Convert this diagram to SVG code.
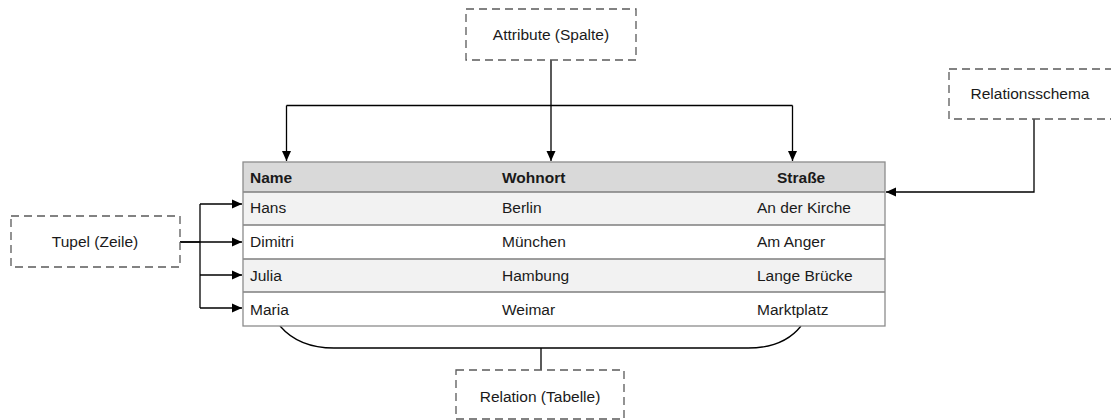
<svg xmlns="http://www.w3.org/2000/svg" width="1111" height="420" viewBox="0 0 1111 420">
  <style>
    text { font-family: "Liberation Sans", Arial, sans-serif; font-size: 15.5px; fill: #1a1a1a; }
    .hdr { font-weight: bold; }
    .note { fill: #ffffff; stroke: #595959; stroke-width: 1.3; stroke-dasharray: 8 5; }
    .grid { stroke: #7f7f7f; stroke-width: 1.3; }
    .wire { fill: none; stroke: #000000; stroke-width: 1.3; }
    .arrow { fill: none; stroke: #000000; stroke-width: 1.3; marker-end: url(#tip); }
  </style>
  <defs>
    <marker id="tip" viewBox="0 0 10 10" refX="10" refY="5" markerWidth="10" markerHeight="10" markerUnits="userSpaceOnUse" orient="auto">
      <path d="M0,0.5 L10,5 L0,9.5 Z" fill="#000000"/>
    </marker>
  </defs>

  <rect width="1111" height="420" fill="#ffffff"/>

  <!-- connectors -->
  <g id="connectors">
    <!-- attribute fan-out to the three columns -->
    <path class="wire" d="M551,60 V105.5"/>
    <path class="wire" d="M286.5,105.5 H792.5"/>
    <path class="arrow" d="M286.5,105.5 V161"/>
    <path class="arrow" d="M551,105.5 V161"/>
    <path class="arrow" d="M792.5,105.5 V161"/>
    <!-- schema to header row -->
    <path class="arrow" d="M1034,119 V192 H886"/>
    <!-- tuple fan-out to each row -->
    <path class="wire" d="M180,242 H200"/>
    <path class="wire" d="M200,204 V308"/>
    <path class="arrow" d="M200,204 H242"/>
    <path class="arrow" d="M180,242 H242"/>
    <path class="arrow" d="M200,275 H242"/>
    <path class="arrow" d="M200,308 H242"/>
    <!-- brace under the table -->
    <path class="wire" d="M280,326 C292,340 310,348 334,348 H748 C772,348 790,340 801,326"/>
    <path class="wire" d="M541,348 V370"/>
  </g>

  <!-- relation table -->
  <g id="table">
    <rect x="243" y="162" width="642" height="30" fill="#d9d9d9"/>
    <rect x="243" y="192" width="642" height="33" fill="#f2f2f2"/>
    <rect x="243" y="225" width="642" height="34" fill="#ffffff"/>
    <rect x="243" y="259" width="642" height="33" fill="#f2f2f2"/>
    <rect x="243" y="292" width="642" height="34" fill="#ffffff"/>
    <path class="grid" d="M243,192 H885 M243,225 H885 M243,259 H885 M243,292 H885"/>
    <rect x="243" y="162" width="642" height="164" fill="none" stroke="#8c8c8c" stroke-width="1.3"/>

    <text class="hdr" x="250" y="183">Name</text>
    <text class="hdr" x="502" y="183">Wohnort</text>
    <text class="hdr" x="777" y="183">Straße</text>

    <text x="250" y="213">Hans</text>
    <text x="502" y="213">Berlin</text>
    <text x="757" y="213">An der Kirche</text>

    <text x="250" y="247">Dimitri</text>
    <text x="502" y="247">München</text>
    <text x="757" y="247">Am Anger</text>

    <text x="250" y="281">Julia</text>
    <text x="502" y="281">Hambung</text>
    <text x="757" y="281">Lange Brücke</text>

    <text x="250" y="315">Maria</text>
    <text x="502" y="315">Weimar</text>
    <text x="757" y="315">Marktplatz</text>
  </g>

  <!-- annotation boxes -->
  <g id="attribute">
    <rect class="note" x="466" y="9" width="170" height="51"/>
    <text x="551" y="40" text-anchor="middle">Attribute (Spalte)</text>
  </g>

  <g id="schema">
    <rect class="note" x="949" y="69" width="170" height="50"/>
    <text x="1030" y="99" text-anchor="middle">Relationsschema</text>
  </g>

  <g id="tuple">
    <rect class="note" x="11" y="216" width="169" height="51"/>
    <text x="95" y="247" text-anchor="middle">Tupel (Zeile)</text>
  </g>

  <g id="relation">
    <rect class="note" x="456" y="370" width="168" height="49"/>
    <text x="540" y="402" text-anchor="middle">Relation (Tabelle)</text>
  </g>
</svg>
